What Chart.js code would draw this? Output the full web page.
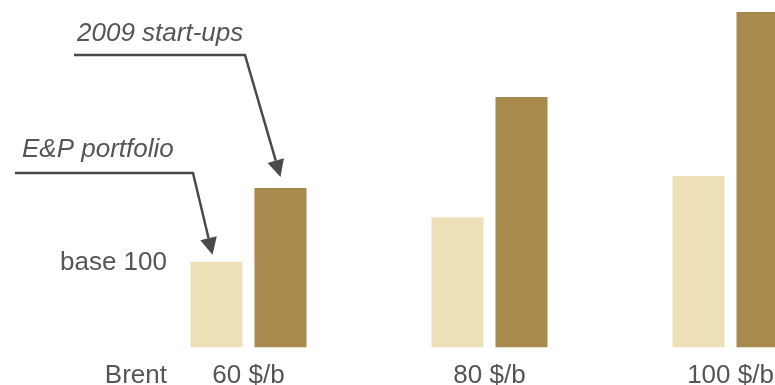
<!DOCTYPE html>
<html>
<head>
<meta charset="utf-8">
<script src="https://cdn.jsdelivr.net/npm/chart.js@4/dist/chart.umd.min.js"></script>
<style>
  html, body { margin: 0; padding: 0; overflow: hidden; background: #fff; }
  #wrap { width: 851px; height: 385px; }
</style>
</head>
<body>
<div id="wrap"><canvas id="chart" width="851" height="385"></canvas></div>
<script>
'use strict';

const brentLabels = ['60 $/b', '80 $/b', '100 $/b'];
const portfolio = [100, 152, 200];
const startups = [186, 292, 391];
const baseValue = 100;

const textColor = '#555555';
const arrowColor = '#4a4a4a';
const font = '"Liberation Sans", Arial, sans-serif';

function arrow(ctx, pts) {
  ctx.save();
  ctx.strokeStyle = arrowColor;
  ctx.fillStyle = arrowColor;
  ctx.lineWidth = 2.5;
  ctx.beginPath();
  const last = pts[pts.length - 1], prev = pts[pts.length - 2];
  const ang = Math.atan2(last[1] - prev[1], last[0] - prev[0]);
  const head = 17, half = 8.5;
  ctx.moveTo(pts[0][0], pts[0][1]);
  for (let i = 1; i < pts.length - 1; i++) ctx.lineTo(pts[i][0], pts[i][1]);
  ctx.lineTo(last[0] - Math.cos(ang) * head, last[1] - Math.sin(ang) * head);
  ctx.stroke();
  ctx.beginPath();
  ctx.moveTo(last[0], last[1]);
  ctx.lineTo(last[0] - Math.cos(ang) * head - Math.sin(ang) * half, last[1] - Math.sin(ang) * head + Math.cos(ang) * half);
  ctx.lineTo(last[0] - Math.cos(ang) * head + Math.sin(ang) * half, last[1] - Math.sin(ang) * head - Math.cos(ang) * half);
  ctx.closePath();
  ctx.fill();
  ctx.restore();
}

const notes = {
  id: 'notes',
  afterDraw(chart) {
    const ctx = chart.ctx;
    const y = chart.scales.y;
    const x = chart.scales.x;
    const p0 = chart.getDatasetMeta(0).data[0];
    const s0 = chart.getDatasetMeta(1).data[0];

    ctx.save();
    ctx.fillStyle = textColor;
    ctx.font = '26px ' + font;
    ctx.textAlign = 'right';
    ctx.textBaseline = 'middle';
    ctx.fillText('base ' + baseValue, 167, y.getPixelForValue(baseValue) + 1);
    // "Brent" sits on the tick label line
    const item = x.getLabelItems()[0];
    ctx.textBaseline = item.options.textBaseline || 'middle';
    ctx.fillText('Brent', 167, item.options.translation[1] + (item.textOffset || 0));

    ctx.font = 'italic 26px ' + font;
    ctx.textAlign = 'left';
    ctx.textBaseline = 'alphabetic';
    ctx.fillText('2009 start-ups', 77, 41);
    ctx.fillText('E&P portfolio', 22, 157);
    ctx.restore();

    arrow(ctx, [[74, 55], [245, 55], [s0.x, s0.y - 11]]);
    arrow(ctx, [[15, 173], [193, 173], [p0.x - 4, p0.y - 7]]);
  }
};

new Chart(document.getElementById('chart').getContext('2d'), {
  type: 'bar',
  data: {
    labels: brentLabels,
    datasets: [{
      label: 'E&P portfolio',
      data: portfolio,
      backgroundColor: '#ede0b9',
      borderWidth: 0
    }, {
      label: '2009 start-ups',
      data: startups,
      backgroundColor: '#a8894e',
      borderWidth: 0
    }]
  },
  options: {
    animation: false,
    responsive: false,
    categoryPercentage: 0.531,
    barPercentage: 0.8125,
    layout: { padding: { left: 128, right: 0, top: 0, bottom: -20 } },
    scales: {
      x: {
        grid: { display: false, drawTicks: false },
        border: { display: false },
        ticks: {
          color: textColor,
          padding: 17,
          font: { family: font, size: 26, lineHeight: 0.9 }
        }
      },
      y: { display: false, min: 0, max: 405 }
    },
    plugins: {
      legend: { display: false },
      tooltip: { enabled: false }
    }
  },
  plugins: [notes]
});
</script>
</body>
</html>
